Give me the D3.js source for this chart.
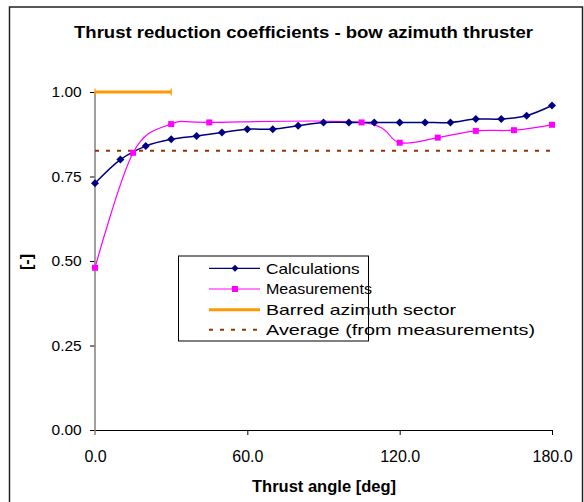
<!DOCTYPE html>
<html>
<head>
<meta charset="utf-8">
<script src="https://cdn.jsdelivr.net/npm/d3@7/dist/d3.min.js"></script>
<style>
  html, body { margin: 0; padding: 0; background: #fff; }
  svg { display: block; }
  text { font-family: "Liberation Sans", Arial, sans-serif; fill: #000; }
</style>
</head>
<body>
<svg id="chart" width="584" height="502"></svg>
<script>
// ---- data ----
const calcAngles = [0, 10, 20, 30, 40, 50, 60, 70, 80, 90, 100, 110, 120, 130, 140, 150, 160, 170, 180];
const calcValues = [0.73, 0.80, 0.84, 0.86, 0.87, 0.88, 0.89, 0.89, 0.90, 0.91, 0.91, 0.91, 0.91, 0.91, 0.91, 0.92, 0.92, 0.93, 0.96];
const measAngles = [0, 15, 30, 45, 105, 120, 135, 150, 165, 180];
const measValues = [0.48, 0.82, 0.905, 0.91, 0.91, 0.85, 0.865, 0.885, 0.887, 0.903];
const barredSector = [0, 30];
const barredValue = 1.0;
const averageValue = 0.826;
const averageRange = [0, 180];
const xTicks = [0, 60, 120, 180];
const yTicks = [0, 0.25, 0.5, 0.75, 1.0];
const seriesNames = ["Calculations", "Measurements", "Barred azimuth sector", "Average (from measurements)"];
const titleText = "Thrust reduction coefficients - bow azimuth thruster";
const xTitle = "Thrust angle [deg]";
const yTitle = "[-]";

// ---- layout ----
const svg = d3.select("#chart");
const x = d3.scaleLinear().domain([0, 180]).range([95, 552]);
const y = d3.scaleLinear().domain([0, 1]).range([430, 92]);

const C_CALC = "#000080", C_MEAS = "#FF00FF", C_BAR = "#FF9900", C_AVG = "#993300";

// outer border
svg.append("rect").attr("x", 9.5).attr("y", 7).attr("width", 573).attr("height", 510)
  .attr("fill", "#fff").attr("stroke", "#222").attr("stroke-width", 1.5);

function fitText(sel, w) {
  sel.each(function () {
    this.setAttribute("textLength", w);
    this.setAttribute("lengthAdjust", "spacingAndGlyphs");
  });
}

// title
svg.append("text").attr("x", 303.5).attr("y", 38.3).attr("text-anchor", "middle")
  .attr("font-size", 16).attr("font-weight", "bold").text(titleText).call(fitText, 459);

// axes
const yAxis = d3.axisLeft(y).tickValues(yTicks).tickFormat(d3.format(".2f"))
  .tickSize(5).tickSizeOuter(0).tickPadding(8.3);
const gy = svg.append("g").attr("transform", "translate(95,0)").call(yAxis);
gy.select(".domain").remove();
gy.selectAll(".tick line").attr("stroke", "#000");
gy.selectAll(".tick text").attr("font-size", 15.5).attr("font-family", "Liberation Sans, Arial, sans-serif").attr("fill", "#000");

const xAxis = d3.axisBottom(x).tickValues(xTicks).tickFormat(d3.format(".1f"))
  .tickSize(5).tickSizeOuter(0).tickPadding(15.3);
const gx = svg.append("g").attr("transform", "translate(0,430)").call(xAxis);
gx.select(".domain").attr("stroke", "#000").attr("d", `M${x(0)},0.5H${x(180)}`);
gx.selectAll(".tick line").attr("stroke", "#000");
gx.selectAll(".tick").filter(d => d === 0).select("line").remove();
gx.selectAll(".tick text").attr("font-size", 16).attr("font-family", "Liberation Sans, Arial, sans-serif").attr("fill", "#000");

// y axis line (gray), extending below the x axis
svg.append("line").attr("x1", 95).attr("x2", 95).attr("y1", y(1)).attr("y2", 435)
  .attr("stroke", "#808080").attr("stroke-width", 1.5);

// axis titles
svg.append("text").attr("x", 324).attr("y", 491.7).attr("text-anchor", "middle")
  .attr("font-size", 16).attr("font-weight", "bold").text(xTitle).call(fitText, 144);
svg.append("text").attr("transform", "translate(32,262) rotate(-90)").attr("text-anchor", "middle")
  .attr("font-size", 16).attr("font-weight", "bold").text(yTitle);

// average dashed line
svg.append("line").attr("x1", x(averageRange[0])).attr("x2", x(averageRange[1]))
  .attr("y1", y(averageValue)).attr("y2", y(averageValue))
  .attr("stroke", C_AVG).attr("stroke-width", 2).attr("stroke-dasharray", "4,7");

// barred sector
const gb = svg.append("g");
gb.append("line").attr("x1", x(barredSector[0])).attr("x2", x(barredSector[1]))
  .attr("y1", y(barredValue)).attr("y2", y(barredValue))
  .attr("stroke", C_BAR).attr("stroke-width", 3);
barredSector.forEach(a => {
  gb.append("line").attr("x1", x(a)).attr("x2", x(a))
    .attr("y1", y(barredValue) - 3.5).attr("y2", y(barredValue) + 3.5)
    .attr("stroke", C_BAR).attr("stroke-width", 1.2);
});

// lines
const line = d3.line().x(d => x(d[0])).y(d => y(d[1])).curve(d3.curveCardinal.tension(0));
const calcData = calcAngles.map((a, i) => [a, calcValues[i]]);
const measData = measAngles.map((a, i) => [a, measValues[i]]);

svg.append("path").datum(measData).attr("d", line).attr("fill", "none")
  .attr("stroke", C_MEAS).attr("stroke-width", 1.2);
svg.append("path").datum(calcData).attr("d", line).attr("fill", "none")
  .attr("stroke", C_CALC).attr("stroke-width", 1.5);

const diamond = (cx, cy, r) => `M${cx},${cy - r}L${cx + r},${cy}L${cx},${cy + r}L${cx - r},${cy}Z`;
svg.append("g").selectAll("path").data(calcData).join("path")
  .attr("d", d => diamond(x(d[0]), y(d[1]), 4)).attr("fill", C_CALC);
svg.append("g").selectAll("rect").data(measData).join("rect")
  .attr("x", d => x(d[0]) - 3).attr("y", d => y(d[1]) - 3)
  .attr("width", 6).attr("height", 6).attr("fill", C_MEAS);

// legend
const lg = svg.append("g");
lg.append("rect").attr("x", 178.5).attr("y", 256).attr("width", 190).attr("height", 85)
  .attr("fill", "#fff").attr("stroke", "#000").attr("stroke-width", 1);
const rowsY = [268.3, 289, 309.7, 329.7];
const legendWidths = [93.7, 106, 190, 269];
rowsY.forEach((ry, i) => {
  const g = lg.append("g");
  if (i === 0) {
    g.append("line").attr("x1", 209).attr("x2", 260).attr("y1", ry).attr("y2", ry)
      .attr("stroke", C_CALC).attr("stroke-width", 1.2);
    g.append("path").attr("d", diamond(235, ry, 3.5)).attr("fill", C_CALC);
  } else if (i === 1) {
    g.append("line").attr("x1", 209).attr("x2", 260).attr("y1", ry).attr("y2", ry)
      .attr("stroke", C_MEAS).attr("stroke-width", 1.2);
    g.append("rect").attr("x", 232).attr("y", ry - 3).attr("width", 6).attr("height", 6).attr("fill", C_MEAS);
  } else if (i === 2) {
    g.append("line").attr("x1", 209).attr("x2", 260).attr("y1", ry).attr("y2", ry)
      .attr("stroke", C_BAR).attr("stroke-width", 3);
  } else {
    g.append("line").attr("x1", 209).attr("x2", 260).attr("y1", ry).attr("y2", ry)
      .attr("stroke", C_AVG).attr("stroke-width", 2).attr("stroke-dasharray", "4,7");
  }
  g.append("text").attr("x", 266).attr("y", ry + 5.3).attr("font-size", 14.5)
    .text(seriesNames[i]).call(fitText, legendWidths[i]);
});
</script>
</body>
</html>
